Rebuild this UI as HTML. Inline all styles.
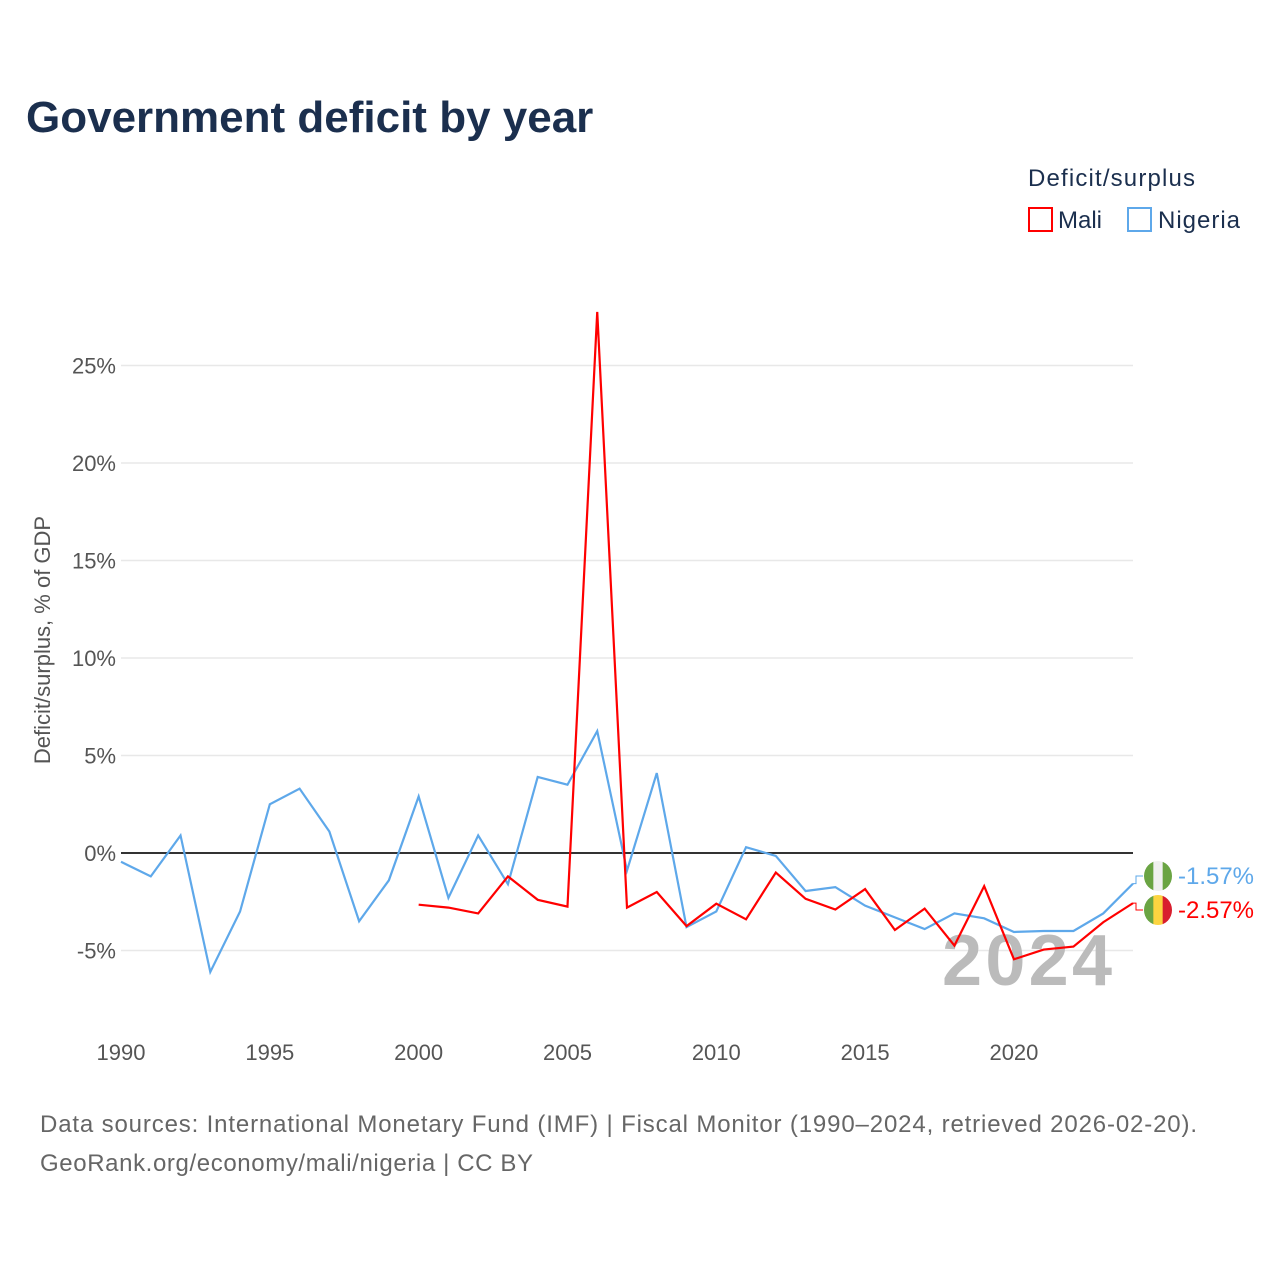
<!DOCTYPE html>
<html><head><meta charset="utf-8"><style>
body{margin:0;background:#fff;font-family:"Liberation Sans",sans-serif}
#wrap{position:relative;width:1280px;height:1280px}
</style></head><body>
<div id="wrap">
<svg id="chart" width="1280" height="1280" xmlns="http://www.w3.org/2000/svg">
<text x="26" y="132" font-size="44" font-weight="bold" fill="#1b2f4e">Government deficit by year</text>
<text x="1028" y="186" font-size="24" fill="#1b2f4e" textLength="167">Deficit/surplus</text>
<g><rect x="1029" y="208" width="23" height="23" fill="none" stroke="#f00" stroke-width="2"/><text x="1058" y="228" font-size="24" fill="#1b2f4e">Mali</text></g>
<g><rect x="1128" y="208" width="23" height="23" fill="none" stroke="#5ea8ea" stroke-width="2"/><text x="1158" y="228" font-size="24" fill="#1b2f4e" textLength="82">Nigeria</text></g>
<text transform="translate(50,640) rotate(-90)" text-anchor="middle" font-size="22" fill="#555">Deficit/surplus, % of GDP</text>
<g id="grid"></g>
<text x="942" y="985" font-size="72" font-weight="bold" fill="#bbb" textLength="170">2024</text>
<g id="series"></g><g id="labels"></g>
<text x="40" y="1132" font-size="24" fill="#666" textLength="1157">Data sources: International Monetary Fund (IMF) | Fiscal Monitor (1990–2024, retrieved 2026-02-20).</text>
<text x="40" y="1171" font-size="24" fill="#666" textLength="493">GeoRank.org/economy/mali/nigeria | CC BY</text>
</svg></div>
<script>
const yearsNigeria=[1990,1991,1992,1993,1994,1995,1996,1997,1998,1999,2000,2001,2002,2003,2004,2005,2006,2007,2008,2009,2010,2011,2012,2013,2014,2015,2016,2017,2018,2019,2020,2021,2022,2023,2024];
const nigeriaValues=[-0.45,-1.2,0.9,-6.1,-3.0,2.5,3.3,1.1,-3.5,-1.4,2.9,-2.3,0.9,-1.6,3.9,3.5,6.25,-0.9,4.1,-3.8,-3.0,0.3,-0.15,-1.95,-1.75,-2.7,-3.3,-3.9,-3.1,-3.35,-4.05,-4.0,-4.0,-3.1,-1.57];
const yearsMali=[2000,2001,2002,2003,2004,2005,2006,2007,2008,2009,2010,2011,2012,2013,2014,2015,2016,2017,2018,2019,2020,2021,2022,2023,2024];
const maliValues=[-2.65,-2.8,-3.1,-1.2,-2.4,-2.75,27.75,-2.8,-2.0,-3.75,-2.6,-3.4,-1.0,-2.35,-2.9,-1.85,-3.95,-2.85,-4.75,-1.7,-5.45,-4.95,-4.8,-3.55,-2.57];
const yTicks=[-5,0,5,10,15,20,25];
const xTicks=[1990,1995,2000,2005,2010,2015,2020];
const NS='http://www.w3.org/2000/svg';
const X=y=>121+(y-1990)*(1133-121)/34;
const Y=v=>853-v*19.5;
function mk(t,a,p){const e=document.createElementNS(NS,t);for(const k in a)e.setAttribute(k,a[k]);p.appendChild(e);return e;}
const grid=document.getElementById('grid');
yTicks.forEach(v=>{
 const l=mk('line',{x1:121,x2:1133,y1:Y(v),y2:Y(v),stroke:v===0?'#333':'#e8e8e8','stroke-width':v===0?2:1.5},grid);
 
 
 const t=mk('text',{x:116,y:Y(v)+8,'text-anchor':'end','font-size':22,fill:'#555'},grid);
 t.textContent=v+'%';
 
 
});
xTicks.forEach(y=>{
 const t=mk('text',{x:X(y),y:1060,'text-anchor':'middle','font-size':22,fill:'#555'},grid);
 t.textContent=y;
 
 
});
const ser=document.getElementById('series');
function line(xs,vs,c,name){
 const p=mk('polyline',{points:xs.map((y,i)=>X(y)+','+Y(vs[i])).join(' '),fill:'none',stroke:c,'stroke-width':2.2,'stroke-linejoin':'miter'},ser);
 
 
}
line(yearsNigeria,nigeriaValues,'#5ea8ea','nigeria-line');
line(yearsMali,maliValues,'#f00','mali-line');
const lab=document.getElementById('labels');
function endLabel(v,c,ly,flag,name){
 const lx=1158;
 mk('path',{d:`M${X(2024)},${Y(v)} L1136,${Y(v)} L1136,${ly} L1143,${ly}`,fill:'none',stroke:c,'stroke-width':1},lab);
 const g=mk('g',{},lab);
 
 
 const cp=mk('clipPath',{id:'cp'+name},g);mk('ellipse',{cx:lx,cy:ly,rx:14,ry:15},cp);
 const f=mk('g',{'clip-path':'url(#cp'+name+')'},g);
 flag.forEach((col,i)=>mk('rect',{x:lx-14+i*28/3,y:ly-15,width:28/3+0.5,height:30,fill:col},f));
 const t=mk('text',{x:1178,y:ly+8,'font-size':24,fill:c,textLength:76},g);
 t.textContent=v.toFixed(2)+'%';
}
endLabel(nigeriaValues[nigeriaValues.length-1],'#5ea8ea',876,['#6aa443','#f0f0f0','#6aa443'],'nigeria-end-label');
endLabel(maliValues[maliValues.length-1],'#f00',910,['#6aa443','#fcd440','#d81e2e'],'mali-end-label');
</script>
</body></html>
